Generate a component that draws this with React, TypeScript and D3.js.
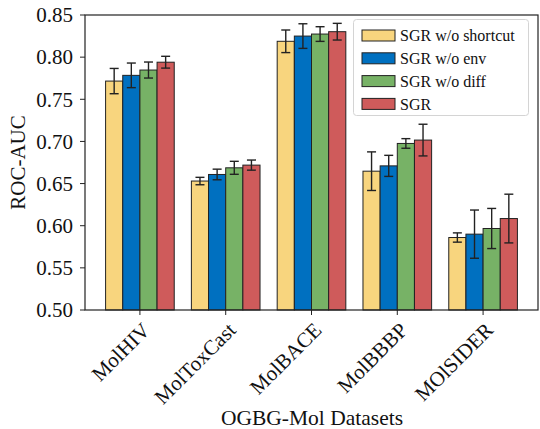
import React from "react";
import * as d3 from "d3";

// datasets on the x axis
const datasets = ["MolHIV", "MolToxCast", "MolBACE", "MolBBBP", "MOlSIDER"];

// ablation variants (legend order)
const variants = ["SGR w/o shortcut", "SGR w/o env", "SGR w/o diff", "SGR"];
const colors = ["#F8D57E", "#0070C0", "#77B266", "#CF5B5B"];

// mean ROC-AUC per variant, one value per dataset
const shortcutMean = [0.7716, 0.653, 0.8188, 0.6647, 0.586];
const envMean = [0.7784, 0.6608, 0.825, 0.671, 0.59];
const diffMean = [0.7847, 0.6687, 0.8274, 0.6976, 0.5967];
const sgrMean = [0.794, 0.6719, 0.8302, 0.7016, 0.6085];

// std (error bar half-length)
const shortcutStd = [0.015, 0.0044, 0.0134, 0.0229, 0.0055];
const envStd = [0.0146, 0.0063, 0.0146, 0.0125, 0.0286];
const diffStd = [0.0095, 0.0077, 0.0087, 0.0057, 0.0238];
const sgrStd = [0.007, 0.006, 0.0099, 0.0188, 0.0289];

const yTicks = [0.5, 0.55, 0.6, 0.65, 0.7, 0.75, 0.8, 0.85];

const W = 540;
const H = 429;
const margin = { left: 85, right: 2, top: 15, bottom: 119 };
const FONT = "'Liberation Serif', 'Times New Roman', serif";

export default function App() {
  const means = [shortcutMean, envMean, diffMean, sgrMean];
  const stds = [shortcutStd, envStd, diffStd, sgrStd];

  const x = d3
    .scaleLinear()
    .domain([-0.64, datasets.length - 1 + 0.64])
    .range([margin.left, W - margin.right]);
  const y = d3
    .scaleLinear()
    .domain([0.5, 0.85])
    .range([H - margin.bottom, margin.top]);

  const barW = 0.2;
  const pxW = x(barW) - x(0);
  const x0 = margin.left;
  const x1 = W - margin.right;
  const yBase = y(0.5);

  return (
    <svg
      width={W}
      height={H}
      style={{ position: "absolute", left: 0, top: 0, background: "#fff" }}
      fontFamily={FONT}
    >
      {/* bars + error bars */}
      {variants.map((v, vi) =>
        datasets.map((d, di) => {
          const cx = x(di + (vi - 1.5) * barW);
          const m = means[vi][di];
          const s = stds[vi][di];
          return (
            <g key={v + d}>
              <rect
                x={cx - pxW / 2}
                y={y(m)}
                width={pxW}
                height={yBase - y(m)}
                fill={colors[vi]}
                stroke="#222"
                strokeWidth={1}
              />
              <line x1={cx} x2={cx} y1={y(m - s)} y2={y(m + s)} stroke="#222" strokeWidth={1.4} />
              <line x1={cx - 4.5} x2={cx + 4.5} y1={y(m - s)} y2={y(m - s)} stroke="#222" strokeWidth={1.4} />
              <line x1={cx - 4.5} x2={cx + 4.5} y1={y(m + s)} y2={y(m + s)} stroke="#222" strokeWidth={1.4} />
            </g>
          );
        })
      )}

      {/* frame */}
      <rect
        x={x0}
        y={margin.top}
        width={x1 - x0}
        height={yBase - margin.top}
        fill="none"
        stroke="#222"
        strokeWidth={1.2}
      />

      {/* y axis */}
      {yTicks.map((t) => (
        <g key={t}>
          <line x1={x0 - 5} x2={x0} y1={y(t)} y2={y(t)} stroke="#222" strokeWidth={1} />
          <text x={x0 - 12} y={y(t)} dy="0.35em" textAnchor="end" fontSize={21} fill="#111">
            {t.toFixed(2)}
          </text>
        </g>
      ))}
      <text
        transform={`translate(25, ${(margin.top + yBase) / 2}) rotate(-90)`}
        textAnchor="middle"
        fontSize={21}
        fill="#111"
      >
        ROC-AUC
      </text>

      {/* x axis */}
      {datasets.map((d, di) => (
        <g key={d}>
          <line x1={x(di)} x2={x(di)} y1={yBase} y2={yBase + 5} stroke="#222" strokeWidth={1} />
          <text
            transform={`translate(${x(di) + 1}, ${yBase + 11}) rotate(-45)`}
            textAnchor="end"
            dy="0.7em"
            fontSize={21}
            fill="#111"
          >
            {d}
          </text>
        </g>
      ))}
      <text x={312} y={425} textAnchor="middle" fontSize={21.5} fill="#111">
        OGBG-Mol Datasets
      </text>

      {/* legend */}
      <g>
        <rect x={353.5} y={19.5} width={175} height={96} rx={3} fill="#fff" fillOpacity={0.85} stroke="#d4d4d4" strokeWidth={1} />
        {variants.map((v, vi) => (
          <g key={v} transform={`translate(362, ${35.5 + vi * 22.8})`}>
            <rect x={0} y={-5.5} width={33} height={11} fill={colors[vi]} stroke="#222" strokeWidth={1} />
            <text x={38} y={0} dy="0.35em" fontSize={16} fill="#111">
              {v}
            </text>
          </g>
        ))}
      </g>
    </svg>
  );
}
